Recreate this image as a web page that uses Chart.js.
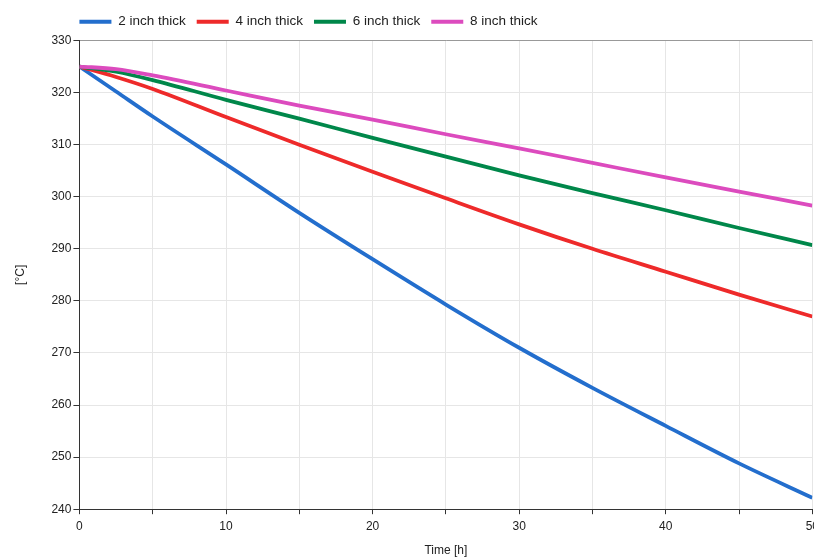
<!DOCTYPE html>
<html>
<head>
<meta charset="utf-8">
<script src="https://cdn.jsdelivr.net/npm/chart.js@4.4.1/dist/chart.umd.min.js"></script>
<style>
    html, body { margin: 0; padding: 0; background: #fff; overflow: hidden; }
    #wrap { width: 824px; height: 558px; }
</style>
</head>
<body>
<div id="wrap"><canvas id="grafico"></canvas></div>
<script>
// Tiempo en horas
const horas = [0, 2.5, 5, 10, 15, 20, 25, 30, 35, 40, 45, 50];

// Temperatura (°C) por espesor
const espesor2 = [325, 320.2, 315.4, 306.2, 296.9, 288.0, 279.3, 271.0, 263.3, 256.0, 248.8, 242.2];
const espesor4 = [325, 323.0, 320.7, 315.3, 310.0, 304.8, 299.7, 294.7, 290.0, 285.6, 281.2, 277.0];
const espesor6 = [325, 324.0, 322.4, 318.6, 315.0, 311.3, 307.7, 304.1, 300.7, 297.4, 294.0, 290.7];
const espesor8 = [325, 324.5, 323.3, 320.4, 317.5, 314.8, 312.0, 309.3, 306.5, 303.7, 301.0, 298.3];

const etiquetas = ["2 inch thick", "4 inch thick", "6 inch thick", "8 inch thick"];
const colores = ["#236ecd", "#ee2a2a", "#00874a", "#dc4bbe"];

function serie(valores) {
    return horas.map((h, i) => ({ x: h, y: valores[i] }));
}

const series = [espesor2, espesor4, espesor6, espesor8];

const datasets = series.map((valores, i) => ({
    label: etiquetas[i],
    data: serie(valores),
    borderColor: colores[i],
    backgroundColor: colores[i],
    borderWidth: 3.8,
    pointRadius: 0,
    cubicInterpolationMode: "monotone",
    order: series.length - i   // la última serie queda encima
}));

// Ajuste de la leyenda: un poco más de espacio debajo y alineada con el eje
const ajusteLeyenda = {
    id: "ajusteLeyenda",
    beforeInit(chart) {
        const fitOriginal = chart.legend.fit;
        chart.legend.fit = function () {
            fitOriginal.bind(chart.legend)();
            this.height += 2;
        };
    },
    afterLayout(chart) {
        chart.legend.left -= 11;
        chart.legend.right -= 11;
    }
};

const ctx = document.getElementById("grafico").getContext("2d");

Chart.defaults.font.family = "'Liberation Sans', Arial, sans-serif";
Chart.defaults.font.size = 12;
Chart.defaults.color = "#333";

new Chart(ctx, {
    type: "line",
    data: { datasets },
    plugins: [ajusteLeyenda],
    options: {
        responsive: true,
        maintainAspectRatio: false,
        animation: false,
        layout: { padding: { left: 13, top: 4, right: 0, bottom: 0 } },
        plugins: {
            legend: {
                position: "top",
                align: "start",
                fullSize: false,
                labels: {
                    boxWidth: 32,
                    boxHeight: 4,
                    padding: 11,
                    font: { size: 13.5 },
                    color: "#222",
                    sort: (a, b) => a.datasetIndex - b.datasetIndex,
                    // muestra de línea sin borde
                    generateLabels: chart =>
                        Chart.defaults.plugins.legend.labels.generateLabels(chart)
                            .map(item => ({ ...item, lineWidth: 0 }))
                }
            },
            tooltip: { enabled: false }
        },
        scales: {
            x: {
                type: "linear",
                min: 0,
                max: 50,
                border: { color: "#333" },
                grid: { color: "#e6e6e6", tickColor: "#333", tickLength: 5 },
                ticks: {
                    stepSize: 5,
                    autoSkip: false,
                    maxRotation: 0,
                    padding: 5,
                    color: "#222",
                    callback: v => (v % 10 === 0 ? v : "")
                },
                title: { display: true, text: "Time [h]", color: "#222", padding: { top: 5, bottom: 0 } }
            },
            y: {
                min: 240,
                max: 330,
                border: { color: "#333" },
                grid: {
                    color: c => (c.tick && c.tick.value === 330 ? "#999" : "#e6e6e6"),
                    tickColor: "#333",
                    tickLength: 6
                },
                ticks: { stepSize: 10, padding: 2, color: "#222" },
                title: { display: true, text: "[°C]", color: "#222", padding: { top: 0, bottom: 22 } }
            }
        }
    }
});
</script>
</body>
</html>
